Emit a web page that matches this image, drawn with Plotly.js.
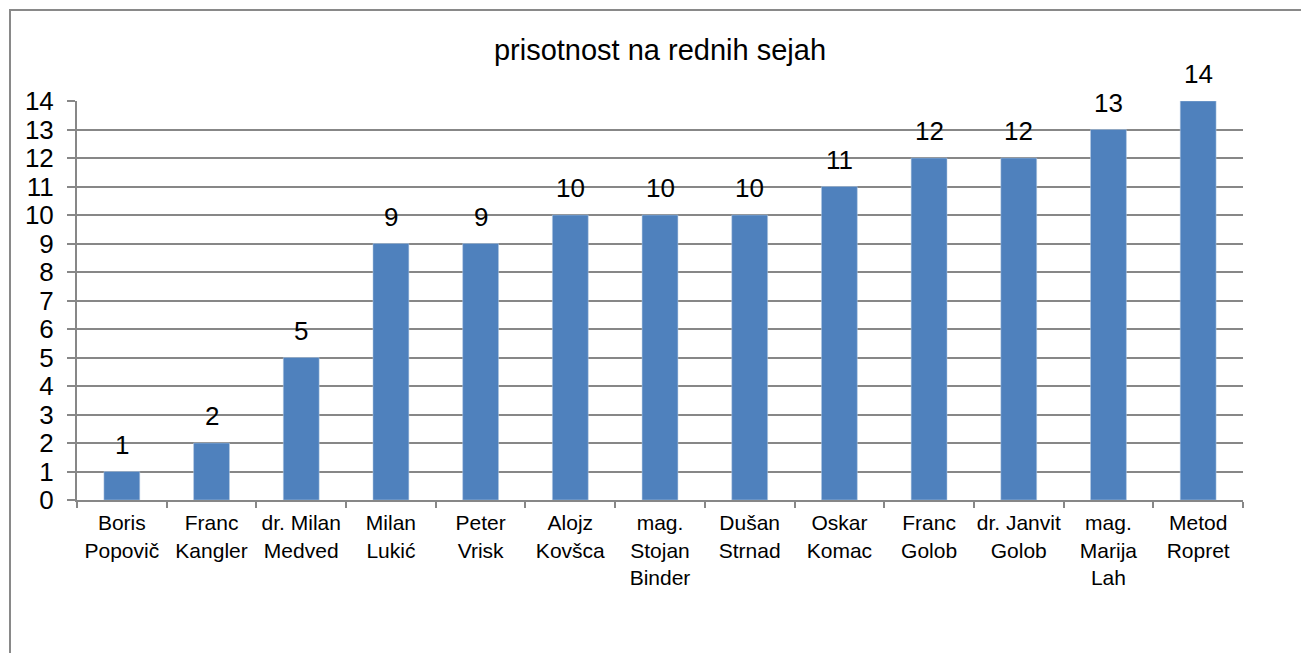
<!DOCTYPE html>
<html>
<head>
<meta charset="utf-8">
<script src="https://cdn.plot.ly/plotly-3.0.1.min.js"></script>
<style>
html,body{margin:0;padding:0;background:#fff;}
#chart{width:1301px;height:653px;}
</style>
</head>
<body>
<div id="chart"></div>
<script>
const categories = [
  "Boris<br>Popovič", "Franc<br>Kangler", "dr. Milan<br>Medved", "Milan<br>Lukić",
  "Peter<br>Vrisk", "Alojz<br>Kovšca", "mag.<br>Stojan<br>Binder", "Dušan<br>Strnad",
  "Oskar<br>Komac", "Franc<br>Golob", "dr. Janvit<br>Golob", "mag.<br>Marija<br>Lah",
  "Metod<br>Ropret"
];
const values = [1, 2, 5, 9, 9, 10, 10, 10, 11, 12, 12, 13, 14];
const yTicks = [0,1,2,3,4,5,6,7,8,9,10,11,12,13,14];
const titleText = "prisotnost na rednih sejah";

const FONT = "Liberation Sans, Arial, sans-serif";
const GRID = "#878787";

const trace = {
  type: "bar",
  x: categories,
  y: values,
  marker: {color: "#4F81BD", line: {color: "#B9CDE5", width: 0.5}},
  hoverinfo: "x+y"
};

const annotations = values.map((v, i) => ({
  x: categories[i], y: v, xref: "x", yref: "y",
  text: String(v), showarrow: false, yanchor: "bottom", yshift: 10,
  font: {family: FONT, size: 26, color: "#000"}
}));

const layout = {
  width: 1301, height: 653,
  margin: {l: 77, r: 58, t: 101, b: 153, pad: 0},
  paper_bgcolor: "#fff", plot_bgcolor: "#fff",
  bargap: 0.6,
  showlegend: false,
  title: {
    text: titleText, x: 0.5, xref: "paper", xanchor: "center",
    y: 1 - 50/653, yref: "container", yanchor: "middle",
    font: {family: FONT, size: 29, color: "#000"}
  },
  xaxis: {
    type: "category",
    showgrid: false,
    showline: true, linecolor: GRID, linewidth: 2,
    ticks: "outside", tickson: "boundaries", ticklen: 6, tickwidth: 2, tickcolor: GRID,
    tickfont: {family: FONT, size: 21, color: "#000"},
    tickangle: 0,
    ticklabelstandoff: 3,
    fixedrange: true
  },
  yaxis: {
    range: [0, 14], tickvals: yTicks, ticktext: yTicks.map(String),
    showgrid: true, gridcolor: GRID, gridwidth: 2,
    showline: true, linecolor: GRID, linewidth: 2,
    zeroline: false,
    ticks: "outside", ticklen: 8, tickwidth: 2, tickcolor: GRID,
    tickfont: {family: FONT, size: 26, color: "#000"},
    ticklabelstandoff: 8,
    fixedrange: true
  },
  annotations: annotations,
  shapes: [{
    type: "rect", xref: "paper", yref: "paper", layer: "above",
    x0: (10 - 77) / 1166, x1: (1320 - 77) / 1166,
    y0: (500 - 680) / 399, y1: (500 - 10) / 399,
    line: {color: "#898989", width: 2}, fillcolor: "rgba(0,0,0,0)"
  }]
};

Plotly.newPlot("chart", [trace], layout, {displayModeBar: false, staticPlot: true});
</script>
</body>
</html>
